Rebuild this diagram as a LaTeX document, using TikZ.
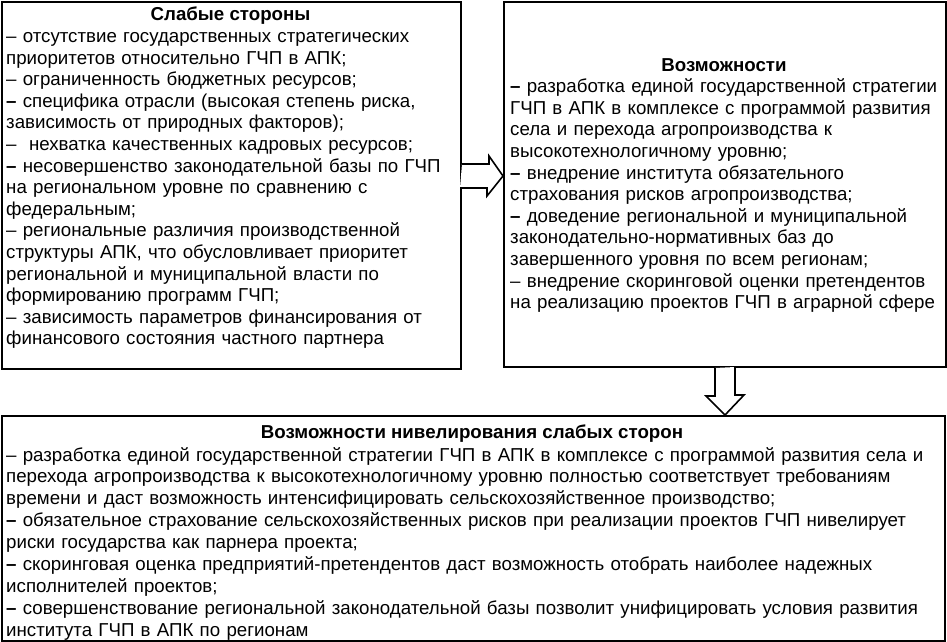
\documentclass[tikz,border=0pt]{standalone}
\usepackage{fontspec}
\setmainfont{Liberation Sans}
\usetikzlibrary{calc}
\newcommand{\bd}{{\bfseries –}}
\begin{document}
\begin{tikzpicture}[x=1pt,y=-1pt,
  box/.style={draw, line width=2pt, inner sep=0pt, anchor=north west},
  ttl/.style={inner sep=0pt, anchor=base, font=\bfseries\fontsize{18.7}{22}\selectfont},
  body/.style={inner sep=0pt, anchor=base west, align=left, font=\fontsize{18.7}{21.6}\selectfont},
  bodyb/.style={body, font=\fontsize{18.7}{21.9}\selectfont},
  barrow/.style={draw, line width=1.6pt, fill=white, line join=miter}]
\useasboundingbox (0,0) rectangle (947,642);

\node[box, minimum width=459pt, minimum height=367pt] (weak) at (1,1) {};
\node[box, minimum width=442pt, minimum height=365pt] (opp) at (503,1) {};
\node[box, minimum width=943pt, minimum height=225pt] (res) at (1,415) {};

\node[ttl] (weakt) at (230.5,21) {Слабые стороны};
\node[body, text width=452pt] (weakb) at (6,42.6) {%
– отсутствие государственных стратегических\\
приоритетов относительно ГЧП в АПК;\\
– ограниченность бюджетных ресурсов;\\
\bd{} специфика отрасли (высокая степень риска,\\
зависимость от природных факторов);\\
–\ \ нехватка качественных кадровых ресурсов;\\
\bd{} несовершенство законодательной базы по ГЧП\\
на региональном уровне по сравнению с\\
федеральным;\\
– региональные различия производственной\\
структуры АПК, что обусловливает приоритет\\
региональной и муниципальной власти по\\
формированию программ ГЧП;\\
– зависимость параметров финансирования от\\
финансового состояния частного партнера};

\node[ttl] (oppt) at (724,71) {Возможности};
\node[body, text width=434pt] (oppb) at (510,92.6) {%
\bd{} разработка единой государственной стратегии\\
ГЧП в АПК в комплексе с программой развития\\
села и перехода агропроизводства к\\
высокотехнологичному уровню;\\
\bd{} внедрение института обязательного\\
страхования рисков агропроизводства;\\
\bd{} доведение региональной и муниципальной\\
законодательно-нормативных баз до\\
завершенного уровня по всем регионам;\\
– внедрение скоринговой оценки претендентов\\
на реализацию проектов ГЧП в аграрной сфере};

\node[ttl] (rest) at (472,438) {Возможности нивелирования слабых сторон};
\node[bodyb, text width=936pt] (resb) at (6,461) {%
– разработка единой государственной стратегии ГЧП в АПК в комплексе с программой развития села и\\
перехода агропроизводства к высокотехнологичному уровню полностью соответствует требованиям\\
времени и даст возможность интенсифицировать сельскохозяйственное производство;\\
\bd{} обязательное страхование сельскохозяйственных рисков при реализации проектов ГЧП нивелирует\\
риски государства как парнера проекта;\\
\bd{} скоринговая оценка предприятий-претендентов даст возможность отобрать наиболее надежных\\
исполнителей проектов;\\
\bd{} совершенствование региональной законодательной базы позволит унифицировать условия развития\\
института ГЧП в АПК по регионам};

% block arrow: weak -> opp
\coordinate (ra) at (weak.east |- 0,176);
\coordinate (rb) at (opp.west |- 0,176);
\draw[barrow] (ra) ++(0,-12) -- ++(27,0) -- ++(0,-8) -- (rb) -- ++(-16,20) -- ++(0,-8) -- ++(-27,0);

% block arrow: opp -> res
\coordinate (da) at (opp.south);
\coordinate (db) at (opp.south |- res.north);
\draw[barrow] (da) ++(-10,0) -- ++(0,28) -- ++(-9,0) -- (db) -- ++(19,-20) -- ++(-9,0) -- ++(0,-28);
\end{tikzpicture}
\end{document}
